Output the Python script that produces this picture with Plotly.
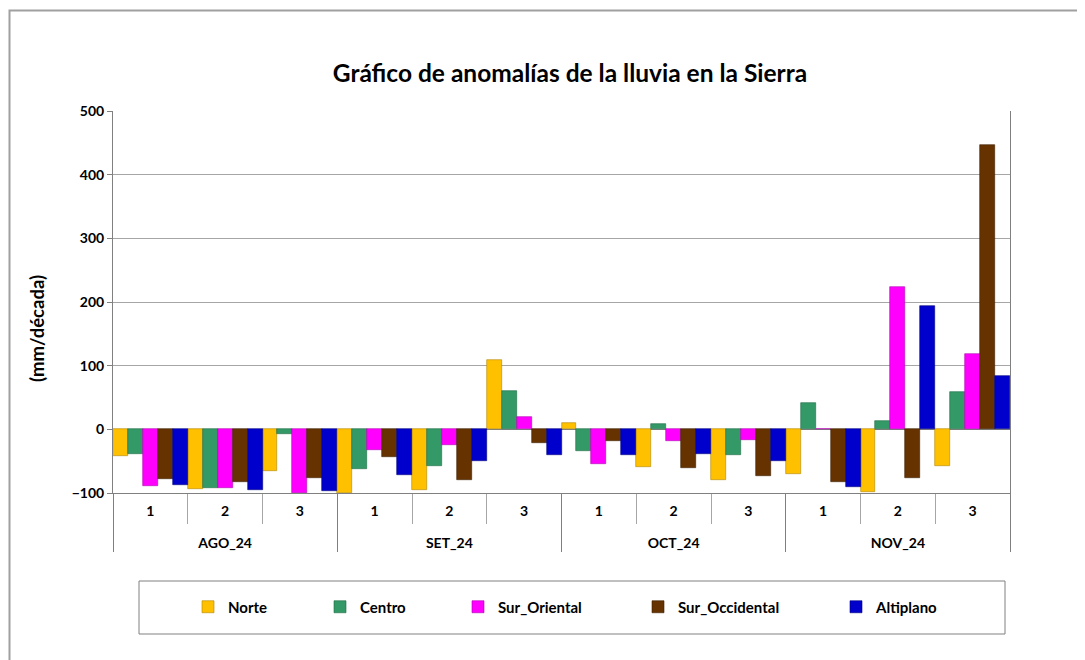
import plotly.graph_objects as go

months = ["AGO_24", "SET_24", "OCT_24", "NOV_24"]
decades = ["1", "2", "3"]
series_names = ["Norte", "Centro", "Sur_Oriental", "Sur_Occidental", "Altiplano"]

norte = [-42, -93, -65, -100, -95, 109, 10, -59, -80, -70, -99, -58]
centro = [-39, -92, -8, -62, -57, 60, -34, 9, -41, 41, 13, 58]
sur_oriental = [-89, -92, -100, -32, -24, 19, -55, -19, -16, 1, 223, 118]
sur_occidental = [-78, -82, -76, -43, -79, -21, -19, -61, -74, -82, -77, 447]
altiplano = [-88, -95, -97, -71, -50, -41, -40, -38, -50, -90, 194, 83]

colors = ["#FFC000", "#339966", "#FF00FF", "#663300", "#0000CC"]
edge_colors = ["#B08400", "#1F6B45", "#B000B0", "#3D1F00", "#000080"]

outer = ["<br>" + m for m in months for _ in decades]
inner = [d for _ in months for d in decades]

FONT = "Lato"
OFF = 8  # page body margin
fig = go.Figure()
values = [norte, centro, sur_oriental, sur_occidental, altiplano]
legend_ids = ["legend", "legend2", "legend3", "legend4", "legend5"]
for name, vals, col, ecol, lg in zip(series_names, values, colors, edge_colors, legend_ids):
    fig.add_trace(go.Bar(
        x=[outer, inner], y=vals, name=name,
        marker=dict(color=col, line=dict(color=ecol, width=0.6)),
        legend=lg,
    ))

W, H = 1085 - OFF, 660 - OFF
L, T = 113 - OFF, 111 - OFF
R = W - (1010 - OFF)
B = H - (493 - OFF)
pw, ph = W - L - R, H - T - B

def px(xp):
    return (xp - OFF - L) / pw

def py(yp):
    return (H - B - (yp - OFF)) / ph

legend_text_x = [226, 358, 496, 676, 874]
common_leg = dict(orientation="h", xanchor="left", yanchor="middle",
                  y=py(607), bgcolor="rgba(0,0,0,0)", borderwidth=0,
                  font=dict(family=FONT, size=15, color="#000000", weight="bold"),
                  itemwidth=30)
layout_legends = {}
for lg, tx in zip(legend_ids, legend_text_x):
    layout_legends[lg] = dict(common_leg, x=px(tx - 38))

fig.update_layout(
    width=W, height=H,
    margin=dict(l=L, r=R, t=T, b=B),
    paper_bgcolor="white", plot_bgcolor="white",
    barmode="group", bargap=0, bargroupgap=0,
    showlegend=True,
    title=dict(text="Gráfico de anomalías de la lluvia en la Sierra",
               x=px(570), xref="paper", xanchor="center",
               y=1 - (73 - OFF) / H, yref="container", yanchor="middle",
               font=dict(family=FONT, size=24.5, color="#000000", weight="bold")),
    font=dict(family=FONT, color="#000000"),
    **layout_legends,
)

fig.update_yaxes(
    range=[-100, 500], dtick=100, tick0=0,
    showgrid=True, gridcolor="#A6A6A6", gridwidth=1,
    zeroline=True, zerolinecolor="#808080", zerolinewidth=1,
    showline=True, linecolor="#808080", linewidth=1, mirror=True,
    ticks="outside", ticklen=5, tickcolor="#808080",
    tickfont=dict(family=FONT, size=14, color="#000000", weight="bold"),
)
fig.update_xaxes(
    type="multicategory",
    showline=True, linecolor="#808080", linewidth=1,
    showdividers=True, dividercolor="#808080", dividerwidth=1,
    ticks="outside", tickson="boundaries", ticklen=30, tickcolor="#A6A6A6",
    ticklabelstandoff=5,
    tickfont=dict(family=FONT, size=14, color="#000000", weight="bold"),
)

fig.add_annotation(text="(mm/década)", textangle=-90,
                   x=px(37), y=py(329), xref="paper", yref="paper",
                   showarrow=False, xanchor="center", yanchor="middle",
                   font=dict(family=FONT, size=18.5, color="#000000", weight="bold"))

# legend frame
fig.add_shape(type="rect", xref="paper", yref="paper",
              x0=px(139), x1=px(1005), y0=py(634), y1=py(581),
              line=dict(color="#808080", width=1), fillcolor="rgba(0,0,0,0)")
# outer chart frame
fig.add_shape(type="rect", xref="paper", yref="paper",
              x0=px(9.5), x1=px(1200), y0=py(800), y1=py(10.5),
              line=dict(color="#A0A0A0", width=2), fillcolor="rgba(0,0,0,0)")

fig.write_html("out.html")
